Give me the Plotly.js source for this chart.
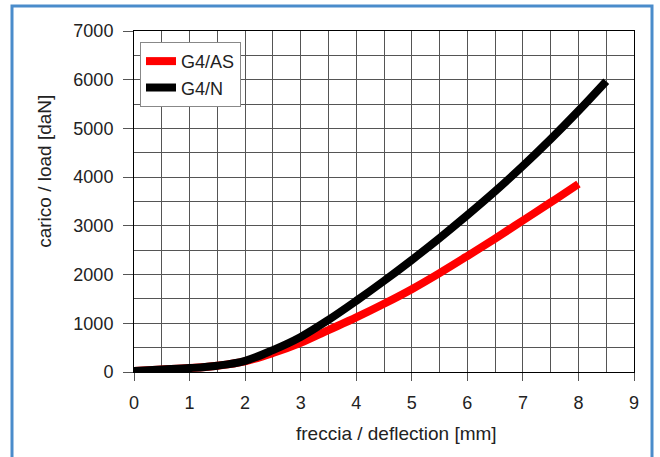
<!DOCTYPE html>
<html>
<head>
<meta charset="utf-8">
<script src="https://cdn.plot.ly/plotly-3.0.1.min.js"></script>
<style>
html,body{margin:0;padding:0;background:#fff;}
#chart{width:660px;height:457px;}
</style>
</head>
<body>
<div id="chart"></div>
<script>
// Data
const asX = [0, 0.5, 1, 1.5, 2, 2.5, 3, 3.5, 4, 4.5, 5, 5.5, 6, 6.5, 7, 7.5, 8];
const asY = [20, 50, 80, 130, 220, 390, 600, 860, 1120, 1400, 1700, 2030, 2380, 2740, 3110, 3480, 3860];
const nX = [0, 0.5, 1, 1.5, 2, 2.5, 3, 3.5, 4, 4.5, 5, 5.5, 6, 6.5, 7, 7.5, 8, 8.5];
const nY = [20, 50, 80, 130, 230, 450, 720, 1070, 1460, 1870, 2300, 2750, 3220, 3710, 4230, 4780, 5360, 5970];
const seriesNames = ["G4/AS", "G4/N"];
const xTitle = "freccia / deflection [mm]";
const yTitle = "carico / load [daN]";

const FONT = "'Liberation Sans', Arial, Helvetica, sans-serif";

const traces = [
  {x: asX, y: asY, name: seriesNames[0], mode: "lines",
   line: {color: "#ff0000", width: 8, shape: "spline", smoothing: 1}},
  {x: nX, y: nY, name: seriesNames[1], mode: "lines",
   line: {color: "#000000", width: 8, shape: "spline", smoothing: 1}}
];

const layout = {
  width: 660, height: 457,
  margin: {l: 134, r: 26, t: 31, b: 85},
  paper_bgcolor: "#ffffff",
  plot_bgcolor: "#ffffff",
  font: {family: FONT, size: 18, color: "#222"},
  showlegend: true,
  legend: {
    x: 0.012, y: 0.968, xanchor: "left", yanchor: "top",
    bgcolor: "#ffffff", bordercolor: "#888", borderwidth: 1,
    font: {family: FONT, size: 18, color: "#222"},
    itemwidth: 30
  },
  xaxis: {
    range: [0, 9], dtick: 1, tick0: 0,
    showgrid: true, gridcolor: "#555", gridwidth: 1,
    minor: {dtick: 0.5, showgrid: true, gridcolor: "#555", gridwidth: 1},
    showline: true, linecolor: "#000", linewidth: 1, mirror: true,
    ticks: "outside", ticklen: 8, tickcolor: "#555", tickwidth: 1,
    ticklabelstandoff: 6,
    zeroline: false, fixedrange: true,
    tickfont: {family: FONT, size: 18, color: "#222"}
  },
  yaxis: {
    range: [0, 7000], dtick: 1000, tick0: 0,
    showgrid: true, gridcolor: "#555", gridwidth: 1,
    minor: {dtick: 500, showgrid: true, gridcolor: "#555", gridwidth: 1},
    showline: true, linecolor: "#000", linewidth: 1, mirror: true,
    ticks: "outside", ticklen: 10, tickcolor: "#555", tickwidth: 1,
    ticklabelstandoff: 6,
    zeroline: false, fixedrange: true,
    tickfont: {family: FONT, size: 18, color: "#222"}
  },
  annotations: [
    {text: xTitle, xref: "paper", yref: "paper", x: 0.524, y: -0.179,
     xanchor: "center", yanchor: "middle", showarrow: false,
     font: {family: FONT, size: 19, color: "#222"}},
    {text: yTitle, xref: "paper", yref: "paper", x: -0.178, y: 0.587,
     xanchor: "center", yanchor: "middle", showarrow: false, textangle: -90,
     font: {family: FONT, size: 19, color: "#222"}}
  ],
  shapes: [
    {type: "rect", xref: "paper", yref: "paper",
     x0: -0.244, x1: 1.036, y0: -0.27, y1: 1.073,
     line: {color: "#4a8ccb", width: 3}, fillcolor: "rgba(0,0,0,0)", layer: "below"}
  ]
};

Plotly.newPlot("chart", traces, layout, {displayModeBar: false, staticPlot: true});
</script>
</body>
</html>
